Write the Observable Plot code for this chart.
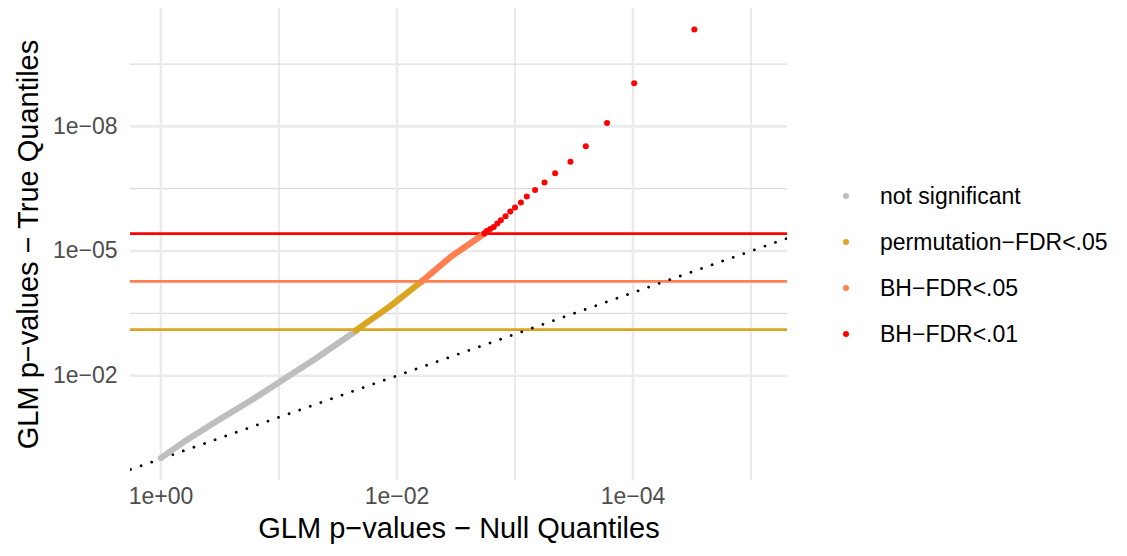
<!DOCTYPE html>
<html>
<head>
<meta charset="utf-8">
<script src="https://cdn.jsdelivr.net/npm/d3@7"></script>
<script src="https://cdn.jsdelivr.net/npm/@observablehq/plot@0.6"></script>
<style>
  body { margin: 0; background: #fff; }
  #wrap { position: relative; width: 1127px; height: 556px; font-family: "Liberation Sans", Arial, Helvetica, sans-serif; }
  #legend { position: absolute; left: 836px; top: 173px; }
  .item { display: flex; align-items: center; height: 46px; font-size: 23px; color: #000; }
  .dot { width: 6px; height: 6px; border-radius: 50%; margin-left: 7px; margin-right: 31px; }
</style>
</head>
<body>
<div id="wrap"><div id="legend"></div></div>
<script>
// values are -log10(p)
const groups = ["not significant", "permutation\u2212FDR<.05", "BH\u2212FDR<.05", "BH\u2212FDR<.01"];
const colors = ["#bebebe", "#daa520", "#ff7f50", "#ff0000"];

const grayNull  = [0.00, 0.19, 0.48, 0.76, 1.00, 1.32, 1.66];
const grayTrue  = [0.02, 0.40, 0.92, 1.40, 1.84, 2.43, 3.09];
const goldNull  = [1.65, 1.95, 2.21];
const goldTrue  = [3.09, 3.69, 4.27];
const coralNull = [2.21, 2.45, 2.74];
const coralTrue = [4.27, 4.85, 5.42];
const redNull = [2.74, 2.76, 2.79, 2.82, 2.85, 2.88, 2.92, 2.96, 3.00, 3.05, 3.10, 3.17, 3.25, 3.34, 3.47, 3.60, 3.78, 4.01, 4.52];
const redTrue = [5.42, 5.48, 5.53, 5.58, 5.66, 5.74, 5.84, 5.95, 6.05, 6.17, 6.31, 6.47, 6.65, 6.87, 7.15, 7.52, 8.08, 9.04, 10.33];

const thresholds = [3.11, 4.27, 5.42];           // permutation, BH .05, BH .01
const thresholdColors = ["#daa520", "#ff7f50", "#ff0000"];

const xTicks = [0, 2, 4];
const xTickLabels = ["1e+00", "1e\u221202", "1e\u221204"];
const xMinor = [1, 3, 5];
const yTicks = [2, 5, 8];
const yTickLabels = ["1e\u221202", "1e\u221205", "1e\u221208"];
const yMinor = [3.5, 6.5, 9.5];

const xDomain = [-0.258, 5.309];
const yDomain = [-0.522, 10.837];

const xTitle = "GLM p\u2212values \u2212 Null Quantiles";
const yTitle = "GLM p\u2212values \u2212 True Quantiles";

const toRows = (xs, ys) => xs.map((x, i) => ({x, y: ys[i]}));
const identity = xDomain.map(v => ({x: v, y: v}));

const chart = Plot.plot({
  width: 1127,
  height: 556,
  marginLeft: 130,
  marginRight: 340,
  marginTop: 8,
  marginBottom: 76,
  style: {fontFamily: '"Liberation Sans", Arial, Helvetica, sans-serif', background: "#fff"},
  x: {domain: xDomain, axis: null},
  y: {domain: yDomain, axis: null},
  marks: [
    Plot.ruleX(xMinor, {stroke: "#dcdcdc", strokeWidth: 1.2}),
    Plot.ruleY(yMinor, {stroke: "#dcdcdc", strokeWidth: 1.2}),
    Plot.ruleX(xTicks, {stroke: "#ebebeb", strokeWidth: 2.6}),
    Plot.ruleY(yTicks, {stroke: "#ebebeb", strokeWidth: 2.6}),
    Plot.ruleY(thresholds, {stroke: (d, i) => thresholdColors[i], strokeWidth: 2.6}),
    Plot.line(identity, {x: "x", y: "y", stroke: "#000", strokeWidth: 2.8, strokeDasharray: "0.01 11.2", strokeLinecap: "round", clip: true}),
    Plot.line(toRows(grayNull, grayTrue), {x: "x", y: "y", stroke: colors[0], strokeWidth: 6.2, strokeLinecap: "round"}),
    Plot.line(toRows(goldNull, goldTrue), {x: "x", y: "y", stroke: colors[1], strokeWidth: 6.2, strokeLinecap: "round"}),
    Plot.line(toRows(coralNull, coralTrue), {x: "x", y: "y", stroke: colors[2], strokeWidth: 6.2, strokeLinecap: "round"}),
    Plot.dot(toRows(redNull, redTrue), {x: "x", y: "y", fill: colors[3], r: 3}),
    Plot.axisX(xTicks, {tickSize: 0, tickPadding: 7, tickFormat: (d, i) => xTickLabels[i], fontSize: 23, fill: "#4d4d4d", label: null}),
    Plot.axisY(yTicks, {tickSize: 0, tickPadding: 13, tickFormat: (d, i) => yTickLabels[i], fontSize: 23, fill: "#4d4d4d", label: null}),
    Plot.text([xTitle], {frameAnchor: "bottom", dy: 57, text: d => d, fontSize: 29, fill: "#000"}),
    Plot.text([yTitle], {frameAnchor: "left", textAnchor: "middle", dx: -102, rotate: -90, text: d => d, fontSize: 29, fill: "#000"})
  ]
});
document.getElementById("wrap").prepend(chart);

const legend = document.getElementById("legend");
groups.forEach((g, i) => {
  const row = document.createElement("div");
  row.className = "item";
  const dot = document.createElement("span");
  dot.className = "dot";
  dot.style.background = colors[i];
  const label = document.createElement("span");
  label.textContent = g;
  row.append(dot, label);
  legend.append(row);
});
</script>
</body>
</html>
